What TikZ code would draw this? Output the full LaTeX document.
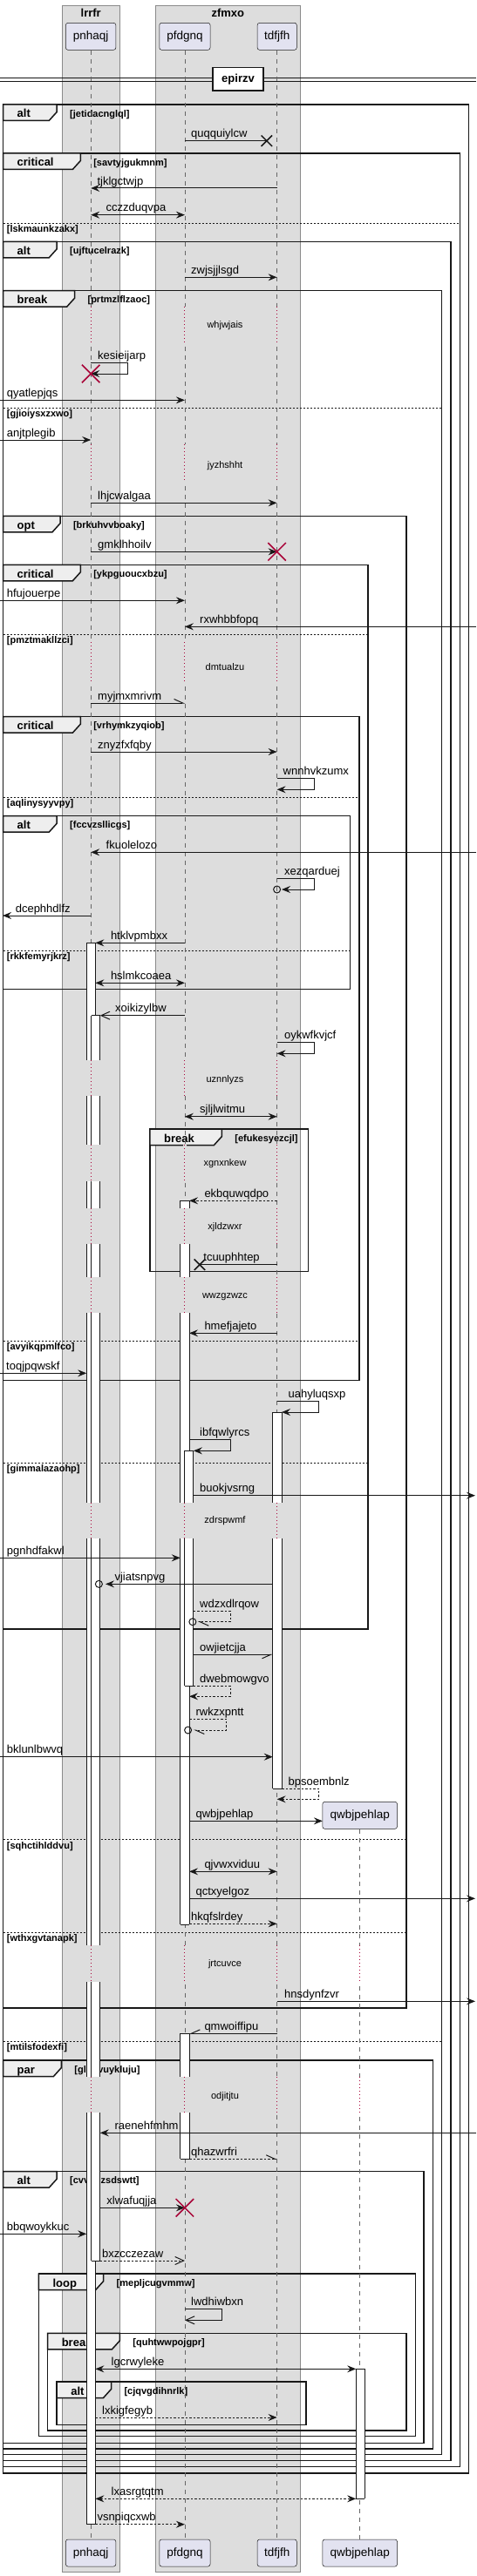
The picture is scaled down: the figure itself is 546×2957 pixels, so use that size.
\documentclass[tikz,border=0pt]{standalone}
\usepackage{fontspec}
\setmainfont{Liberation Sans}
\usepackage{xcolor}
\usepackage{tikz}
\usetikzlibrary{arrows.meta,shapes.misc,calc}
\definecolor{boxgray}{HTML}{DDDDDD}
\definecolor{tabgray}{HTML}{EEEEEE}
\definecolor{partfill}{HTML}{E2E2F0}
\definecolor{lncol}{HTML}{181818}
\definecolor{delayred}{HTML}{A80036}
\definecolor{boxline}{HTML}{8A8A8A}
\newcommand{\sqmsg}[7]{%
  \coordinate (#1a) at (#3,#5);
  \coordinate (#1b) at (#4,#5);
  \draw[#2] (#1a) -- (#1b);
  \node[mlab] (#1t) at (#6,#5-4) {#7};}
\newcommand{\sqself}[9]{%
  \coordinate (#1a) at (#3,#6);
  \coordinate (#1b) at (#5,#7);
  \draw[#2] (#1a) -- (#4,#6) -- (#4,#7) -- (#1b);
  \node[mlab] (#1t) at (#8,#6-4) {#9};}
\newcommand{\sqgroup}[8]{%
  \draw[frm] (#2,#3) rectangle (#4,#5);
  \draw[frm, fill=tabgray] (#2,#3) -- (#7,#3) -- (#7,#3+8.5) -- (#7-9,#3+18.5) -- (#2,#3+18.5) -- cycle;
  \node[kindlab] (#1k) at (#2+16,#3+15) {#6};
  \node[guardlab] (#1g) at (#7+14.8,#3+14.2) {[#8]};}
\newcommand{\sqelse}[5]{%
  \draw[elsel] (#2,#4) -- (#3,#4);
  \node[guardlab] (#1) at (#2+4.2,#4+10.5) {[#5]};}
\newcommand{\sqdelay}[6]{%
  \foreach \lx/\bg in #6 {\fill[\bg] (\lx-1.8,#2) rectangle (\lx+1.8,#3);
    \draw[delayl] (\lx,#2) -- (\lx,#3);}
  \node[delaylab] (#1) at (258,#4) {#5};}
\newcommand{\sqact}[3]{%
  \fill[white] (#1,#2) rectangle (#1+10.2,#3);
  \draw[actl] (#1,#2) -- (#1,#3) (#1+10.2,#2) -- (#1+10.2,#3);}
\newcommand{\sqactcap}[2]{\draw[actl] (#1,#2) -- (#1+10.2,#2);}
\def\lifethree{104.2/boxgray,211.9/boxgray,317.6/boxgray}
\def\lifefour{104.2/boxgray,211.9/boxgray,317.6/boxgray,412.4/white}

\begin{document}
\begin{tikzpicture}[x=1pt, y=-1pt,
  mline/.style={draw=lncol, line width=1pt},
  marr/.style={mline, -{Stealth[length=10pt,width=8pt,inset=3.5pt]}},
  mboth/.style={mline, {Stealth[length=10pt,width=8pt,inset=3.5pt]}-{Stealth[length=10pt,width=8pt,inset=3.5pt]}},
  mdash/.style={marr, dash pattern=on 2.5pt off 2pt},
  mdboth/.style={mboth, dash pattern=on 2.5pt off 2pt},
  mopen/.style={mline, -{Straight Barb[length=10pt,width=9pt]}},
  mdopen/.style={mopen, dash pattern=on 2.5pt off 2pt},
  mplain/.style={mline},
  mhalfl/.style={mline, -{Straight Barb[length=10pt,width=9pt,left]}},
  mhalfr/.style={mline, -{Straight Barb[length=10pt,width=9pt,right]}},
  mdhalfl/.style={mhalfl, dash pattern=on 2.5pt off 2pt},
  mlab/.style={anchor=base west, inner sep=0pt, font=\fontsize{13}{15}\selectfont},
  kindlab/.style={anchor=base west, inner sep=0pt, font=\bfseries\fontsize{13}{15}\selectfont},
  guardlab/.style={anchor=base west, inner sep=0pt, font=\bfseries\fontsize{11}{13}\selectfont},
  delaylab/.style={inner sep=0pt, font=\fontsize{11}{13}\selectfont},
  grplab/.style={inner sep=0pt, font=\bfseries\fontsize{13}{15}\selectfont},
  part/.style={draw=lncol, line width=0.5pt, fill=partfill, rounded corners=2.5pt, minimum height=31pt, inner sep=0pt, font=\fontsize{13.5}{16}\selectfont},
  grpbox/.style={draw=boxline, line width=0.8pt, fill=boxgray},
  frm/.style={draw=lncol, line width=1.5pt},
  elsel/.style={draw=lncol, line width=0.7pt, dash pattern=on 2pt off 2pt},
  life/.style={draw=black!60, line width=0.6pt, dash pattern=on 5pt off 5pt},
  delayl/.style={draw=delayred, line width=1pt, dash pattern=on 1pt off 3pt},
  actl/.style={draw=lncol, line width=0.9pt},
  killx/.style={cross out, draw=delayred, line width=1.5pt, minimum size=19pt, inner sep=0pt},
  lostx/.style={cross out, draw=lncol, line width=1.5pt, minimum size=11pt, inner sep=0pt},
  ring/.style={circle, draw=lncol, line width=1pt, minimum size=8pt, inner sep=0pt}
]
\useasboundingbox (0,0) rectangle (546,2957);
\fill[white] (0,0) rectangle (546,2957);

\draw[grpbox] (71.5,6) rectangle (137,2952.7);
\node[grplab] (lrrfr) at (104.2,15) {lrrfr};
\draw[grpbox] (178.3,6) rectangle (344.2,2952.7);
\node[grplab] (zfmxo) at (261.3,15) {zfmxo};

\draw[draw=lncol, line width=0.8pt] (0,89.5) -- (546,89.5) (0,93.5) -- (546,93.5);
\node[draw=lncol, line width=1.5pt, fill=white, minimum width=58pt, minimum height=26.7pt, inner sep=0pt, font=\bfseries\fontsize{13}{15}\selectfont] (epirzv) at (273,90.7) {epirzv};

\sqgroup{f1}{3.5}{120}{537.3}{2839}{alt}{65.2}{jetidacnglql}
\sqgroup{f2}{3.5}{176}{527.4}{2831.7}{critical}{92.3}{savtyjgukmnm}
\sqelse{f2e1}{3.5}{527.4}{256}{lskmaunkzakx}
\sqgroup{f3}{3.5}{277.3}{516.8}{2824.3}{alt}{65.2}{ujftucelrazk}
\sqgroup{f4}{3.5}{333.7}{506.6}{2817.7}{break}{85.6}{prtmzlflzaoc}
\sqelse{f4e1}{3.5}{506.6}{468.3}{gjioiysxzxwo}
\sqelse{f4e2}{3.5}{506.6}{2343.3}{mtilsfodexfi}
\sqgroup{f5}{3.5}{592.3}{466}{2305}{opt}{69}{brkuhvvboaky}
\sqelse{f5e1}{3.5}{466}{2111.7}{sqhctihlddvu}
\sqelse{f5e2}{3.5}{466}{2218.3}{wthxgvtanapk}
\sqgroup{f6}{3.5}{648.3}{422}{1870}{critical}{92.3}{ykpguoucxbzu}
\sqelse{f6e1}{3.5}{422}{728.3}{pmztmakllzci}
\sqelse{f6e2}{3.5}{422}{1679.3}{gimmalazaohp}
\sqgroup{f7}{3.5}{822.7}{412.2}{1584.3}{critical}{92.3}{vrhymkzyqiob}
\sqelse{f7e1}{3.5}{412.2}{915.3}{aqlinysyyvpy}
\sqelse{f7e2}{3.5}{412.2}{1539.3}{avyikqpmlfco}
\sqgroup{f8}{3.5}{936.7}{401.6}{1135.7}{alt}{65.2}{fccvzsllicgs}
\sqelse{f8e1}{3.5}{401.6}{1091}{rkkfemyrjkrz}
\sqgroup{f9}{171.9}{1296}{353.4}{1459.3}{break}{254.4}{efukesyezcjl}
\sqgroup{f10}{3.5}{2365}{496.7}{2811}{par}{70.4}{glnnvuykluju}
\sqgroup{f11}{3.5}{2492.7}{486.2}{2804.3}{alt}{65.2}{cvvbnzsdswtt}
\sqgroup{f12}{44.4}{2610}{476.3}{2796.7}{loop}{118.7}{mepljcugvmmw}
\sqgroup{f13}{54.6}{2678.3}{466}{2790}{break}{137.4}{quhtwwpojgpr}
\sqgroup{f14}{65.2}{2734}{350.9}{2783.3}{alt}{127.5}{cjqvgdihnrlk}

\node[part, minimum width=57.4pt] (pnhaqjH) at (104.1,41.8) {pnhaqj};
\node[part, minimum width=58.2pt] (pfdgnqH) at (211.9,41.8) {pfdgnq};
\node[part, minimum width=45.1pt] (tdfjfhH) at (317.7,41.8) {tdfjfh};
\node[part, minimum width=85.6pt] (qwbjpehlapH) at (412.7,2083.8) {qwbjpehlap};
\node[part, minimum width=57.4pt] (pnhaqjT) at (104.1,2930.5) {pnhaqj};
\node[part, minimum width=58.2pt] (pfdgnqT) at (211.9,2930.5) {pfdgnq};
\node[part, minimum width=45.1pt] (tdfjfhT) at (317.7,2930.5) {tdfjfh};
\node[part, minimum width=85.6pt] (qwbjpehlapT) at (412.7,2930.5) {qwbjpehlap};
\draw[life] (pnhaqjH) -- (pnhaqjT);
\draw[life] (pfdgnqH) -- (pfdgnqT);
\draw[life] (tdfjfhH) -- (tdfjfhT);
\draw[life] (qwbjpehlapH) -- (qwbjpehlapT);

\sqdelay{d1}{352}{392.7}{373.3}{whjwjais}{\lifethree}
\sqdelay{d2}{510}{553.3}{535}{jyzhshht}{\lifethree}
\sqdelay{d3}{737}{785}{765.7}{dmtualzu}{\lifethree}
\sqdelay{d4}{1217.3}{1258.3}{1239.3}{uznnlyzs}{\lifethree}
\sqdelay{d5}{1314.3}{1356}{1336}{xgnxnkew}{\lifethree}
\sqdelay{d6}{1386.7}{1427.7}{1408.3}{xjldzwxr}{\lifethree}
\sqdelay{d7}{1466}{1507.3}{1488.3}{wwzgzwzc}{\lifethree}
\sqdelay{d8}{1725}{1765.7}{1746}{zdrspwmf}{\lifethree}
\sqdelay{d9}{2233.3}{2275}{2255}{jrtcuvce}{\lifefour}
\sqdelay{d10}{2384.3}{2425}{2406.7}{odjitjtu}{\lifefour}

\foreach \ya/\yb in {1082.3/1217.3,1258.3/1314.3,1356/1386.7,1427.7/1466,1507.3/1725,1765.7/2233.3,2275/2384.3,2425/2897.7} {\sqact{99.2}{\ya}{\yb}}
\sqactcap{99.2}{1082.3} \sqactcap{99.2}{2897.7}
\foreach \ya/\yb in {1165.7/1217.3,1258.3/1314.3,1356/1386.7,1427.7/1466,1507.3/1725,1765.7/2233.3,2275/2384.3,2425/2595} {\sqact{104.6}{\ya}{\yb}}
\sqactcap{104.6}{1165.7} \sqactcap{104.6}{2595}
\foreach \ya/\yb in {1378.3/1386.7,1427.7/1466,1507.3/1725,1765.7/2209} {\sqact{206.8}{\ya}{\yb}}
\sqactcap{206.8}{1378.3} \sqactcap{206.8}{2209}
\foreach \ya/\yb in {1665.3/1725,1765.7/1935} {\sqact{211.7}{\ya}{\yb}}
\sqactcap{211.7}{1665.3} \sqactcap{211.7}{1935}
\foreach \ya/\yb in {1621/1725,1765.7/2053.3} {\sqact{312.8}{\ya}{\yb}}
\sqactcap{312.8}{1621} \sqactcap{312.8}{2053.3}
\foreach \ya/\yb in {2334.3/2384.3,2425/2478.3} {\sqact{206.8}{\ya}{\yb}}
\sqactcap{206.8}{2334.3} \sqactcap{206.8}{2478.3}
\sqact{408.2}{2719.3}{2868.3}
\sqactcap{408.2}{2719.3} \sqactcap{408.2}{2868.3}

\sqmsg{m1}{mplain}{211.9}{305.8}{161.7}{219}{quqquiylcw}
\node[lostx] (m1x) at (305.8,161.7) {};
\sqmsg{m2}{marr}{317.6}{104.2}{216}{111.3}{tjklgctwjp}
\sqmsg{m3}{mboth}{104.2}{211.9}{246.7}{121.5}{cczzduqvpa}
\sqmsg{m4}{marr}{211.9}{317.6}{318.3}{219}{zwjsjjlsgd}
\sqself{m5}{marr}{104.2}{146.9}{104.2}{416.7}{429}{112}{kesieijarp}
\node[killx] (m5x) at (104.2,429) {};
\sqmsg{m6}{marr}{0}{211.9}{459.3}{7.7}{qyatlepjqs}
\sqmsg{m7}{marr}{0}{104.2}{505}{7.7}{anjtplegib}
\sqmsg{m8}{marr}{104.2}{317.6}{577.3}{112}{lhjcwalgaa}
\sqmsg{m9}{marr}{104.2}{317.6}{633.3}{112}{gmklhhoilv}
\node[killx] (m9x) at (317.6,633.3) {};
\sqmsg{m10}{marr}{0}{211.9}{689.3}{7.7}{hfujouerpe}
\sqmsg{m11}{marr}{546}{211.9}{719.3}{229}{rxwhbbfopq}
\sqmsg{m12}{mhalfl}{104.2}{211.9}{807}{112}{myjmxmrivm}
\sqmsg{m13}{marr}{104.2}{317.6}{863}{112}{znyzfxfqby}
\sqself{m14}{marr}{317.6}{360.4}{317.6}{893.7}{906.3}{324.5}{wnnhvkzumx}
\sqmsg{m15}{marr}{546}{104.2}{978.3}{121.5}{fkuolelozo}
\sqself{m16}{marr}{317.6}{360.4}{323}{1008.3}{1021}{325.9}{xezqarduej}
\node[ring] (m16o) at (317.6,1021) {};
\sqmsg{m17}{marr}{104.2}{3}{1051}{17.6}{dcephhdlfz}
\sqmsg{m18}{marr}{211.9}{109.4}{1082.3}{126.8}{htklvpmbxx}
\sqmsg{m19}{mboth}{109.4}{211.9}{1128.3}{126.8}{hslmkcoaea}
\sqmsg{m20}{mopen}{211.9}{114.8}{1165.7}{132}{xoikizylbw}
\sqself{m21}{marr}{317.6}{360.4}{317.6}{1196.7}{1209.3}{325.9}{oykwfkvjcf}
\sqmsg{m22}{mboth}{211.9}{317.6}{1281.7}{229}{sjljlwitmu}
\sqmsg{m23}{mdash}{317.6}{217}{1378.3}{234.3}{ekbquwqdpo}
\sqmsg{m24}{mplain}{317.6}{229}{1451.7}{233.2}{tcuuphhtep}
\node[lostx] (m24x) at (229,1451.7) {};
\sqmsg{m25}{marr}{317.6}{217}{1530.3}{234.3}{hmefjajeto}
\sqmsg{m26}{marr}{0}{99.2}{1576.3}{7}{toqjpqwskf}
\sqself{m27}{marr}{317.6}{365.7}{323}{1608.3}{1621}{330.4}{uahyluqsxp}
\sqself{m28}{marr}{217}{264.2}{221.9}{1652.7}{1665.3}{229}{ibfqwlyrcs}
\sqmsg{m29}{marr}{221.9}{545}{1716.7}{229}{buokjvsrng}
\sqmsg{m30}{marr}{0}{206.8}{1788.3}{7.7}{pgnhdfakwl}
\sqmsg{m31}{marr}{312.8}{121}{1818.3}{131.4}{vjiatsnpvg}
\node[ring] (m31o) at (113.4,1818.3) {};
\sqself{m32}{mdhalfl}{221.9}{264.2}{227}{1849.3}{1861.7}{229}{wdzxdlrqow}
\node[ring] (m32o) at (220.9,1861.7) {};
\sqmsg{m33}{mhalfr}{221.9}{312.8}{1899.3}{229}{owjietcjja}
\sqself{m34}{mdash}{221.9}{264.2}{217}{1935}{1947.3}{229}{dwebmowgvo}
\sqself{m35}{mdhalfl}{217}{259.6}{222}{1973.3}{1986}{224.4}{rwkzxpntt}
\node[ring] (m35o) at (215.6,1986) {};
\sqmsg{m36}{marr}{0}{312.8}{2016.7}{7.7}{bklunlbwvq}
\sqself{m37}{mdash}{323}{365.7}{317.6}{2053.3}{2065.3}{330.4}{bpsoembnlz}
\sqmsg{m38}{marr}{217}{369.9}{2090.3}{224.4}{qwbjpehlap}
\sqmsg{m39}{mboth}{217}{317.6}{2148.3}{234.3}{qjvwxviduu}
\sqmsg{m40}{marr}{217}{545}{2179.3}{224.4}{qctxyelgoz}
\sqmsg{m41}{mdash}{217}{317.6}{2208.3}{219}{hkqfslrdey}
\sqmsg{m42}{marr}{317.6}{545}{2297.3}{325.9}{hnsdynfzvr}
\sqmsg{m43}{mhalfr}{317.6}{217}{2334.3}{234.3}{qmwoiffipu}
\sqmsg{m44}{marr}{546}{114.8}{2448.3}{131.4}{raenehfmhm}
\sqmsg{m45}{mdhalfl}{217}{317.6}{2478.3}{219}{qhazwrfri}
\sqmsg{m46}{marr}{114.8}{211.9}{2534.3}{122.2}{xlwafuqjja}
\node[killx] (m46x) at (211.9,2534.3) {};
\sqmsg{m47}{marr}{0}{99.2}{2564.3}{7.7}{bbqwoykkuc}
\sqmsg{m48}{mdopen}{114.8}{211.9}{2595}{117}{bxzcczezaw}
\sqself{m49}{mopen}{211.9}{254.4}{211.9}{2650.3}{2663.3}{219}{lwdhiwbxn}
\sqmsg{m50}{mboth}{109.4}{408.2}{2719.3}{127.5}{lgcrwyleke}
\sqmsg{m51}{mdash}{109.4}{317.6}{2775}{117}{lxkigfegyb}
\sqmsg{m52}{mdboth}{109.4}{408.2}{2868.3}{127.5}{lxasrgtqtm}
\sqmsg{m53}{mdash}{109.4}{211.9}{2897.7}{111.3}{vsnpiqcxwb}
\end{tikzpicture}
\end{document}
